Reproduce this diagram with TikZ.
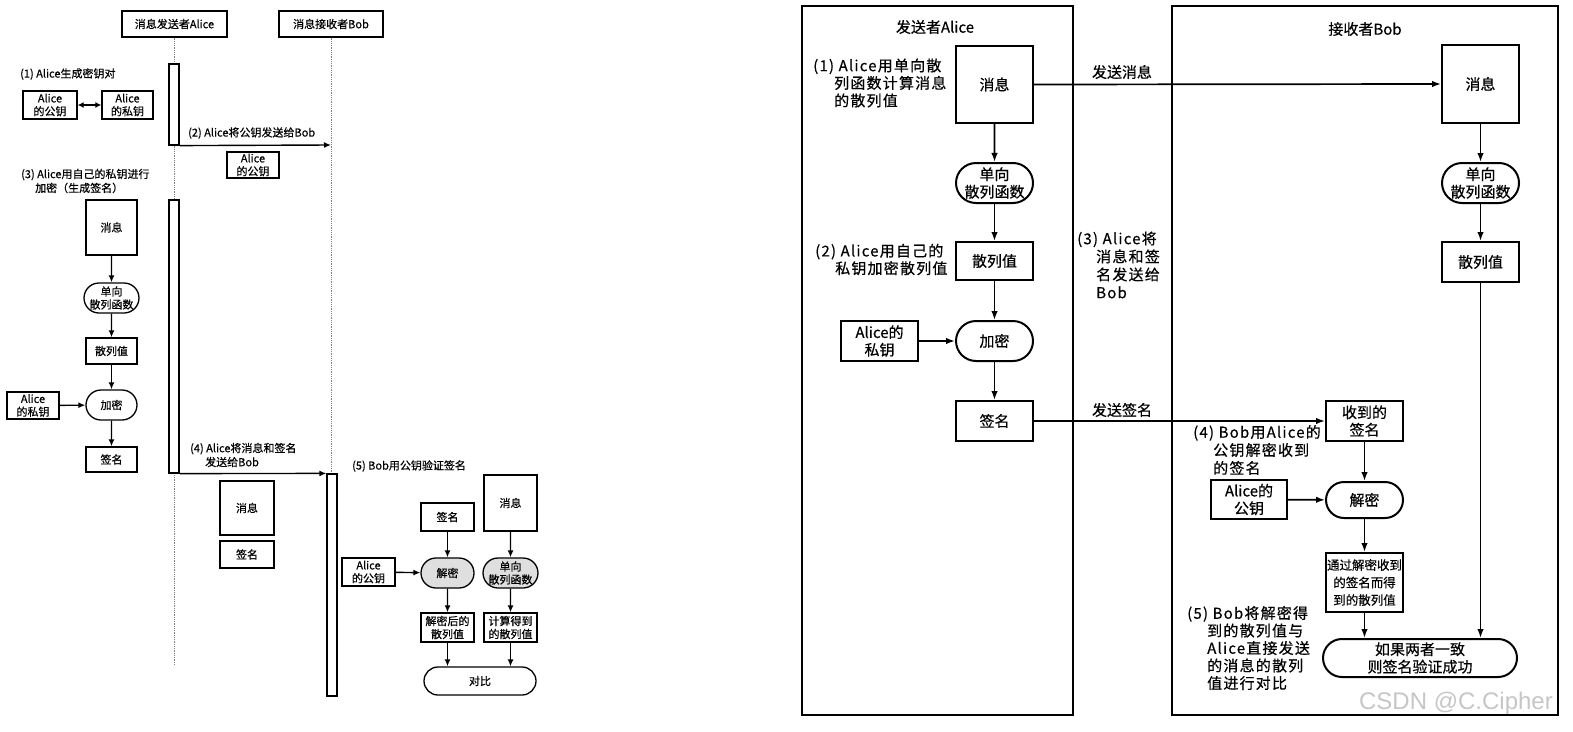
\documentclass[tikz,border=0pt]{standalone}
\usepackage{fontspec}
\setmainfont{Noto Sans CJK SC}[FakeBold=0.5]
\newfontfamily\annf{Noto Sans CJK SC}[LetterSpace=8,FakeBold=0.5]
\newfontfamily\wmf{Liberation Sans}
\usetikzlibrary{shapes.misc,arrows.meta}
\tikzset{
 lbox/.style={draw, line width=1.3pt, inner sep=0pt, align=center, font=\fontsize{11}{13}\selectfont, fill=white},
 lstad/.style={lbox, rounded rectangle},
 rbox/.style={draw, line width=2pt, inner sep=0pt, align=center, font=\fontsize{15}{17.5}\selectfont},
 rstad/.style={rbox, rounded rectangle},
 larr/.style={-{Latex[length=7pt,width=6pt]}, line width=1.4pt},
 rarr/.style={-{Latex[length=9pt,width=6.5pt]}, line width=1.7pt},
 ltxt/.style={inner sep=0pt, anchor=west, align=left, font=\fontsize{11}{14}\selectfont},
 rtxt/.style={inner sep=0pt, anchor=west, align=left, font=\annf\fontsize{15}{17.5}\selectfont},
 rlbl/.style={inner sep=0pt, font=\fontsize{15}{17.5}\selectfont},
 life/.style={densely dotted, gray, line width=0.8pt},
 actbar/.style={draw, line width=1.2pt, fill=white, inner sep=0pt, minimum width=10pt},
 frame/.style={draw, line width=2pt, inner sep=0pt},
}
\begin{document}
\begin{tikzpicture}[x=1pt,y=-1pt]
\useasboundingbox (0,0) rectangle (1573,731);
% ================= LEFT DIAGRAM =================
\node[lbox, minimum width=105pt, minimum height=26pt] (hA) at (174.5,24) {消息发送者Alice};
\node[lbox, minimum width=104pt, minimum height=26pt] (hB) at (331,24) {消息接收者Bob};
\coordinate (aEnd) at (174.5,665);
\coordinate (bEnd) at (331,474);
\draw[life] (hA.south) -- (aEnd);
\draw[life] (hB.south) -- (bEnd);
\node[actbar, minimum height=81pt] (bar1) at (174,104.5) {};
\node[actbar, minimum height=273pt] (bar2) at (174,336.5) {};
\node[actbar, minimum height=222pt] (bar3) at (332,585) {};

\node[ltxt] (t1) at (20,74) {(1) Alice生成密钥对};
\node[lbox, minimum width=54pt, minimum height=28pt] (kp) at (50,105) {Alice\\的公钥};
\node[lbox, minimum width=51pt, minimum height=28pt] (ks) at (127.5,105) {Alice\\的私钥};
\draw[{Latex[length=6pt,width=6pt]}-{Latex[length=6pt,width=6pt]}, line width=1.4pt] (kp.east) -- (ks.west);

\coordinate (b2) at (331,145);
\draw[larr] (bar1.south east) -- (b2);
\node[ltxt] (t2) at (188,133) {(2) Alice将公钥发送给Bob};
\node[lbox, minimum width=52pt, minimum height=26pt] (pk2) at (253,165) {Alice\\的公钥};

\node[ltxt] (t3) at (21,181) {(3) Alice用自己的私钥进行\\\hspace*{14pt}加密（生成签名）};
\node[lbox, minimum width=51pt, minimum height=55pt] (m1) at (111.5,227.5) {消息};
\node[lstad, minimum width=51pt, minimum height=30pt] (h1) at (111.5,298) {单向\\散列函数};
\node[lbox, minimum width=51pt, minimum height=26pt] (v1) at (111.5,351) {散列值};
\node[lstad, minimum width=51pt, minimum height=30pt] (e1) at (111.5,405) {加密};
\node[lbox, minimum width=52pt, minimum height=27pt] (sk1) at (33,405.5) {Alice\\的私钥};
\node[lbox, minimum width=51pt, minimum height=25pt] (s1) at (111.5,459.5) {签名};
\draw[larr] (m1) -- (h1);
\draw[larr] (h1) -- (v1);
\draw[larr] (v1) -- (e1);
\draw[larr] (sk1) -- (e1);
\draw[larr] (e1) -- (s1);

\draw[larr] (bar2.south east) -- (bar3.north west);
\node[ltxt] (t4) at (190,455) {(4) Alice将消息和签名\\\hspace*{15pt}发送给Bob};
\node[lbox, minimum width=54pt, minimum height=54pt] (m2) at (247,508) {消息};
\node[lbox, minimum width=54pt, minimum height=27pt] (s2) at (247,554.5) {签名};

\node[ltxt] (t5) at (352,466) {(5) Bob用公钥验证签名};
\node[lbox, minimum width=53pt, minimum height=28pt] (s3) at (447.5,517) {签名};
\node[lbox, minimum width=53pt, minimum height=56pt] (m3) at (510.5,503) {消息};
\node[lbox, minimum width=53pt, minimum height=28pt] (pk3) at (368.5,572) {Alice\\的公钥};
\node[lstad, fill=gray!25, minimum width=53pt, minimum height=30pt] (d3) at (447.5,573) {解密};
\node[lstad, fill=gray!25, minimum width=53pt, minimum height=30pt] (h3) at (510.5,573) {单向\\散列函数};
\node[lbox, minimum width=53pt, minimum height=29pt] (dv3) at (447.5,627.5) {解密后的\\散列值};
\node[lbox, minimum width=53pt, minimum height=29pt] (cv3) at (510.5,627.5) {计算得到\\的散列值};
\node[lstad, minimum width=112pt, minimum height=28pt] (c3) at (480,681) {对比};
\draw[larr] (s3) -- (d3);
\draw[larr] (m3) -- (h3);
\draw[larr] (pk3) -- (d3);
\draw[larr] (d3) -- (dv3);
\draw[larr] (h3) -- (cv3);
\draw[larr] (dv3) -- (dv3 |- c3.north);
\draw[larr] (cv3) -- (cv3 |- c3.north);

% ================= RIGHT DIAGRAM =================
\node[frame, minimum width=271pt, minimum height=709pt] (fA) at (937.5,360.5) {};
\node[frame, minimum width=386pt, minimum height=709pt] (fB) at (1365,360.5) {};
\node[rlbl] (tA) at (935,27) {发送者Alice};
\node[rlbl] (tB) at (1365,29) {接收者Bob};

\node[rtxt] (r1) at (813,83) {(1) Alice用单向散\\\hspace*{21pt}列函数计算消息\\\hspace*{21pt}的散列值};
\node[rbox, minimum width=77pt, minimum height=77pt] (rm1) at (994.5,84.5) {消息};
\node[rstad, minimum width=77pt, minimum height=40pt] (rh1) at (994.5,183) {单向\\散列函数};
\node[rtxt] (r2) at (815,259.5) {(2) Alice用自己的\\\hspace*{20pt}私钥加密散列值};
\node[rbox, minimum width=77pt, minimum height=38pt] (rv1) at (994.5,261) {散列值};
\node[rbox, minimum width=77pt, minimum height=40pt] (rsk) at (879.5,341) {Alice的\\私钥};
\node[rstad, minimum width=77pt, minimum height=40pt] (re1) at (994.5,341) {加密};
\node[rbox, minimum width=77pt, minimum height=40pt] (rs1) at (994.5,421) {签名};
\draw[rarr] (rm1) -- (rh1);
\draw[rarr] (rh1) -- (rv1);
\draw[rarr] (rv1) -- (re1);
\draw[rarr] (rsk) -- (re1);
\draw[rarr] (re1) -- (rs1);

\node[rtxt, font=\annf\fontsize{15}{18}\selectfont] (r3) at (1077,265) {(3) Alice将\\\hspace*{19pt}消息和签\\\hspace*{19pt}名发送给\\\hspace*{19pt}Bob};

\node[rbox, minimum width=77pt, minimum height=78pt] (rm2) at (1480.5,84) {消息};
\node[rstad, minimum width=77pt, minimum height=40pt] (rh2) at (1480.5,183) {单向\\散列函数};
\node[rbox, minimum width=77pt, minimum height=40pt] (rv2) at (1480.5,262) {散列值};
\draw[rarr] (rm1.east) -- (rm2.west);
\node[rlbl] (lm) at (1122,72) {发送消息};
\draw[rarr] (rm2) -- (rh2);
\draw[rarr] (rh2) -- (rv2);

\node[rbox, minimum width=77pt, minimum height=40pt] (rr) at (1364.5,421) {收到的\\签名};
\draw[rarr] (rs1.east) -- (rr.west);
\node[rlbl] (ls) at (1122,410) {发送签名};
\node[rtxt, font=\annf\fontsize{15}{18}\selectfont] (r4) at (1193,450) {(4) Bob用Alice的\\\hspace*{20pt}公钥解密收到\\\hspace*{20pt}的签名};
\node[rbox, minimum width=76pt, minimum height=39pt] (rpk) at (1249,499.5) {Alice的\\公钥};
\node[rstad, minimum width=77pt, minimum height=36pt] (rd) at (1364.5,500) {解密};
\node[rbox, minimum width=77pt, minimum height=59pt, font=\fontsize{12.5}{17.5}\selectfont] (rdv) at (1364.5,582.5) {通过解密收到\\的签名而得\\到的散列值};
\node[rstad, minimum width=194pt, minimum height=38pt] (rc) at (1420,658) {如果两者一致\\则签名验证成功};
\node[rtxt] (r5) at (1187,648) {(5) Bob将解密得\\\hspace*{20pt}到的散列值与\\\hspace*{20pt}Alice直接发送\\\hspace*{20pt}的消息的散列\\\hspace*{20pt}值进行对比};
\draw[rarr] (rr) -- (rd);
\draw[rarr] (rpk) -- (rd);
\draw[rarr] (rd) -- (rdv);
\draw[rarr] (rdv) -- (rdv |- rc.north);
\draw[rarr] (rv2) -- (rv2 |- rc.north);

\node[inner sep=0pt, text=gray!45, font=\wmf\fontsize{24}{24}\selectfont] (wm) at (1456,703) {CSDN @C.Cipher};
\end{tikzpicture}
\end{document}
